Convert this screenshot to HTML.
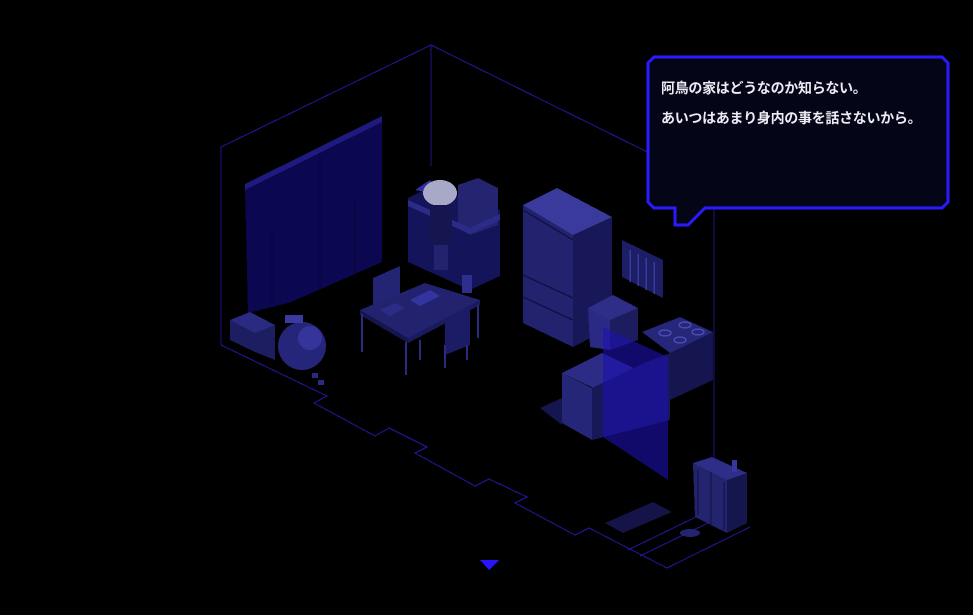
<!DOCTYPE html>
<html><head><meta charset="utf-8"><style>
html,body{margin:0;padding:0;background:#000;}
body{width:973px;height:615px;overflow:hidden;position:relative;}
svg{position:absolute;left:0;top:0;}
.t{position:absolute;left:661px;color:#ececf4;font-family:"Liberation Sans","Noto Sans CJK JP",sans-serif;font-size:14px;font-weight:bold;letter-spacing:-0.3px;white-space:nowrap;line-height:16px;}
</style></head><body>
<svg width="973" height="615" viewBox="0 0 973 615" shape-rendering="crispEdges">
<g fill="none" stroke="#1c1488" stroke-width="1.2">
<polyline points="221,345 221,147 431,45 714,185 714,500"/>
<line x1="431" y1="45" x2="431" y2="166"/>
<polyline points="221,345 327,396 314,403 375,436 389,428 427,447 415,453 475,486 489,479 527,497 515,503 575,535 589,528 667,568 750,527"/>
<polyline points="628,550 700,515"/>
<polyline points="640,556 712,521"/>
</g>
<polygon points="245,188 382,118 382,262 330,285 300,300 248,313" fill="#0b0750"/>
<polygon points="245,184 382,116 382,122 245,190" fill="#1e1a80"/>
<g stroke="#06043a" stroke-width="1"><line x1="320" y1="153" x2="320" y2="290"/><line x1="272" y1="230" x2="272" y2="305"/><line x1="355" y1="200" x2="355" y2="275"/></g>
<polygon points="250,320 330,285 382,262 430,265 300,360" fill="#000"/>
<polygon points="230,320 250,312 275,325 275,360 255,352 230,340" fill="#1d1d62"/>
<polygon points="230,320 250,312 275,325 255,333" fill="#2a2a80"/>
<circle cx="302" cy="346" r="24" fill="#25257a"/>
<circle cx="310" cy="338" r="12" fill="#34349a"/>
<rect x="285" y="315" width="18" height="8" fill="#3a3aa0"/>
<rect x="312" y="373" width="6" height="5" fill="#2a2a80"/><rect x="318" y="380" width="6" height="5" fill="#2a2a80"/>
<polygon points="408,198 432,186 500,210 500,276 470,290 408,262" fill="#14145a"/>
<polygon points="458,185 478,178 498,188 498,225 470,235 458,228" fill="#242470"/>
<polygon points="408,200 470,228 500,214 500,220 470,234 408,206" fill="#2c2c88"/>
<polygon points="415,190 430,180 440,195" fill="#3030a0"/>
<ellipse cx="440" cy="193" rx="17" ry="13" fill="#a8a8c8"/>
<rect x="430" y="205" width="22" height="40" fill="#151550"/>
<rect x="434" y="245" width="14" height="25" fill="#22226e"/>
<polygon points="373,278 400,266 400,296 373,308" fill="#242474"/>
<polygon points="360,310 425,283 480,300 408,338" fill="#22226e"/>
<polygon points="360,310 408,338 408,343 360,315" fill="#15154f"/>
<polygon points="408,338 480,300 480,305 408,343" fill="#1a1a5e"/>
<polygon points="445,318 470,306 470,345 445,355" fill="#1c1c66"/>
<polygon points="410,300 430,290 440,296 420,306" fill="#3434a0"/>
<polygon points="380,310 395,303 405,308 390,316" fill="#2c2c86"/>
<g stroke="#2a2a80" stroke-width="2"><line x1="362" y1="314" x2="362" y2="352"/><line x1="406" y1="342" x2="406" y2="375"/><line x1="478" y1="305" x2="478" y2="338"/><line x1="420" y1="340" x2="420" y2="360"/><line x1="445" y1="345" x2="445" y2="368"/><line x1="467" y1="345" x2="467" y2="360"/></g>
<rect x="462" y="275" width="10" height="18" fill="#2e2e8e"/>
<polygon points="523,205 523,323 573,347 573,235" fill="#22226e"/>
<polygon points="573,235 612,217 612,327 573,347" fill="#181858"/>
<polygon points="523,205 557,188 612,217 573,235" fill="#3a3a9c"/>
<g stroke="#111148" stroke-width="1.5"><line x1="523" y1="275" x2="573" y2="298"/><line x1="523" y1="297" x2="573" y2="320"/><line x1="523" y1="210" x2="573" y2="240"/></g>
<polygon points="622,240 663,260 663,298 622,277" fill="#1e1e66"/>
<g stroke="#3a3a9c" stroke-width="1.5"><line x1="630" y1="250" x2="630" y2="282"/><line x1="638" y1="254" x2="638" y2="286"/><line x1="646" y1="258" x2="646" y2="290"/><line x1="654" y1="262" x2="654" y2="294"/></g>
<polygon points="588,308 613,295 638,308 610,320" fill="#2e2e88"/>
<polygon points="588,308 610,320 610,350 590,347" fill="#2a2a84"/>
<polygon points="610,320 638,308 638,340 610,350" fill="#1c1c5e"/>
<polygon points="642,332 680,317 713,332 670,353" fill="#26267a"/>
<polygon points="670,353 713,332 713,380 670,400" fill="#15154f"/>
<g fill="none" stroke="#4a4ab0" stroke-width="1.5"><ellipse cx="665" cy="333" rx="6" ry="3"/><ellipse cx="685" cy="325" rx="6" ry="3"/><ellipse cx="680" cy="340" rx="6" ry="3"/><ellipse cx="698" cy="332" rx="6" ry="3"/></g>
<polygon points="540,408 562,398 562,425" fill="#151550"/>
<polygon points="562,373 602,353 642,372 602,392" fill="#2c2c86"/>
<polygon points="562,373 592,388 592,440 562,423" fill="#262678"/>
<polygon points="592,388 642,364 670,353 670,420 592,440" fill="#181858"/>
<polygon points="603,327 668,357 668,480 603,437" fill="#1e10b0" fill-opacity="0.6"/>
<polygon points="693,463 712,457 747,473 727,480" fill="#2e2e88"/>
<polygon points="693,463 727,480 727,533 695,517" fill="#24246e"/>
<polygon points="727,480 747,473 747,523 727,533" fill="#16164e"/>
<g stroke="#111148" stroke-width="1"><line x1="711" y1="472" x2="711" y2="526"/><line x1="698" y1="470" x2="698" y2="515"/><line x1="724" y1="482" x2="724" y2="530"/></g>
<rect x="732" y="460" width="5" height="12" fill="#3636a0"/>
<polygon points="605,523 653,502 672,512 623,533" fill="#141448"/>
<ellipse cx="690" cy="533" rx="10" ry="4" fill="#23236e"/>
<polygon points="480,560 499,560 489,570" fill="#2a14ff"/>
<path d="M654,57 H942 L948,63 V202 L942,208 H705 L688,225 H675 V208 H654 L648,202 V63 Z" fill="#050518" stroke="#2a1aff" stroke-width="3" shape-rendering="auto"/>
</svg>
<div class="t" style="top:80px">阿鳥の家はどうなのか知らない。</div>
<div class="t" style="top:110px">あいつはあまり身内の事を話さないから。</div>
</body></html>
